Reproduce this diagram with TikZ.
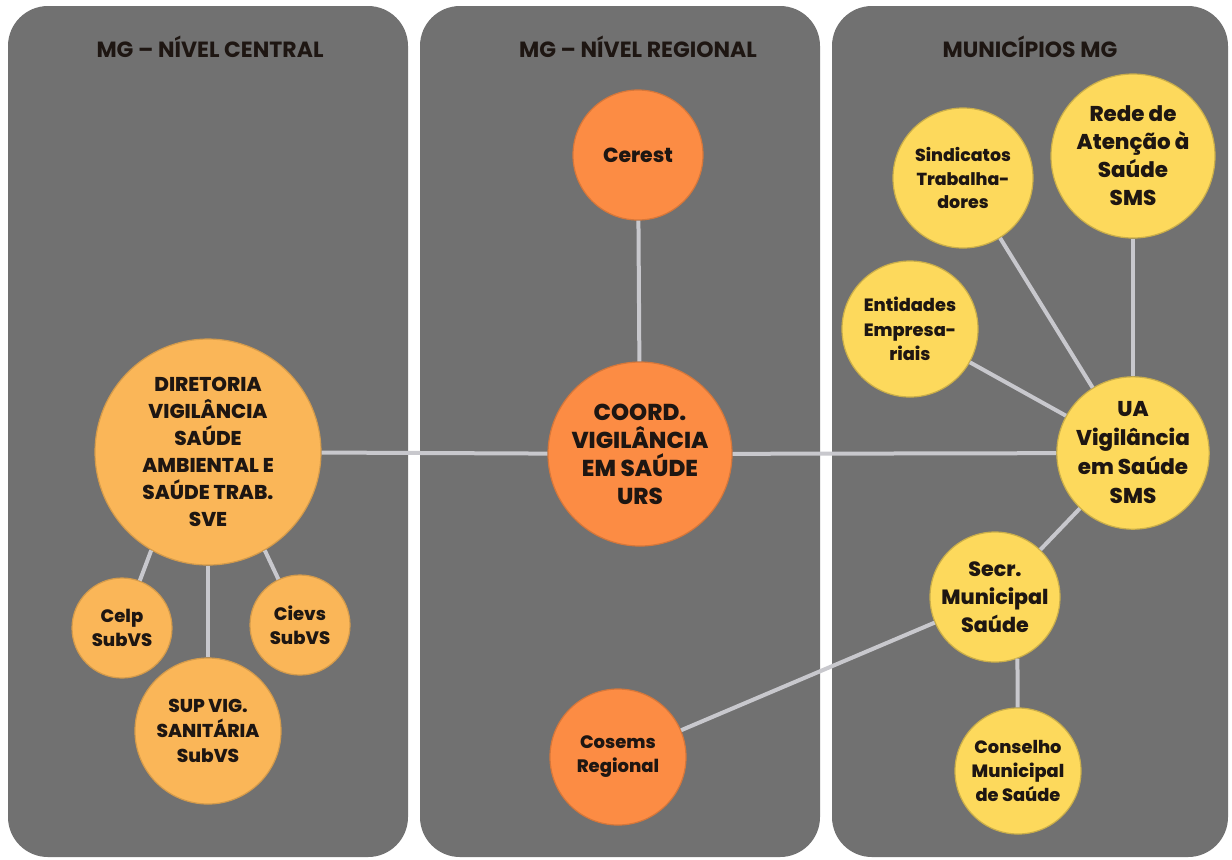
\documentclass[tikz,border=0pt]{standalone}
\usepackage{fontspec}
\IfFontExistsTF{Poppins ExtraBold}
  {\setmainfont{Poppins}[BoldFont={Poppins ExtraBold}]}
  {\setmainfont{Poppins}}
\IfFontExistsTF{Poppins Bold}
  {\newfontfamily\headfont{Poppins Bold}}
  {\newfontfamily\headfont{Poppins}}
\usepackage{tikz}

\definecolor{panelgray}{RGB}{113,113,113}
\definecolor{dirorange}{RGB}{250,182,88}
\definecolor{urorange}{RGB}{252,140,68}
\definecolor{munyellow}{RGB}{253,217,92}
\definecolor{edgegray}{RGB}{200,200,205}
\definecolor{inkdark}{RGB}{30,22,18}

\begin{document}
\begin{tikzpicture}[x=0.5pt,y=-0.5pt]
        \tikzset{panel/.style = {fill=panelgray, rounded corners=20pt}}
        \tikzset{title/.style = {text=inkdark, font=\headfont\fontsize{11}{12}\selectfont}}
        \tikzset{vertex/.style = {shape=circle, align=center, text=inkdark, inner sep=0pt, line width=0.6pt}}
        \tikzset{central/.style = {vertex, fill=dirorange, draw=dirorange!85!black}}
        \tikzset{regional/.style = {vertex, fill=urorange, draw=urorange!85!black}}
        \tikzset{municipal/.style = {vertex, fill=munyellow, draw=munyellow!80!black}}
        \tikzset{edge/.style = {draw=edgegray, line width=2pt}}
        \useasboundingbox (0,0) rectangle (1232,859);
        \fill[white] (0,0) rectangle (1232,859);
        % panels
        \fill[panel] (8,6) rectangle (408,857);
        \fill[panel] (420,6) rectangle (820,857);
        \fill[panel] (832,6) rectangle (1228,857);
        \node[title] (tcentral) at (210,47) {MG – NÍVEL CENTRAL};
        \node[title] (tregional) at (638,47) {MG – NÍVEL REGIONAL};
        \node[title] (tmunic) at (1030,47) {MUNICÍPIOS MG};

        % vertices
        \node[central, minimum size=113pt, font=\bfseries\fontsize{10}{13.5}\selectfont] (dir) at (208,452)
            {DIRETORIA\\VIGILÂNCIA\\SAÚDE\\AMBIENTAL E\\SAÚDE TRAB.\\SVE};
        \node[central, minimum size=50pt, font=\bfseries\fontsize{9}{12}\selectfont] (celp) at (122,628) {Celp\\SubVS};
        \node[central, minimum size=50pt, font=\bfseries\fontsize{9}{12}\selectfont] (cievs) at (300,625) {Cievs\\SubVS};
        \node[central, minimum size=73pt, font=\bfseries\fontsize{9.3}{12.5}\selectfont] (sup) at (208,731) {SUP VIG.\\SANITÁRIA\\SubVS};

        \node[regional, minimum size=65pt, font=\bfseries\fontsize{10.2}{12}\selectfont] (cerest) at (638,155) {Cerest};
        \node[regional, minimum size=92pt, font=\bfseries\fontsize{11.5}{14}\selectfont] (coord) at (640,454) {COORD.\\VIGILÂNCIA\\EM SAÚDE\\URS};
        \node[regional, minimum size=68pt, font=\bfseries\fontsize{9}{12}\selectfont] (cosems) at (618,757) {Cosems\\Regional};

        \node[municipal, minimum size=70pt, font=\bfseries\fontsize{8.7}{11.8}\selectfont] (sind) at (963,178) {Sindicatos\\Trabalha-\\dores};
        \node[municipal, minimum size=82pt, font=\bfseries\fontsize{10.7}{14}\selectfont] (rede) at (1133,156) {Rede de\\Atenção à\\Saúde\\SMS};
        \node[municipal, minimum size=68pt, font=\bfseries\fontsize{8.9}{12.2}\selectfont] (ent) at (910,329) {Entidades\\Empresa-\\riais};
        \node[municipal, minimum size=70pt, font=\bfseries\fontsize{10.7}{14.5}\selectfont] (ua) at (1133,453) {UA\\Vigilância\\em Saúde\\SMS};
        \node[municipal, minimum size=65pt, font=\bfseries\fontsize{10.3}{14}\selectfont] (secr) at (995,597) {Secr.\\Municipal\\Saúde};
        \node[municipal, minimum size=63pt, font=\bfseries\fontsize{8.9}{12.2}\selectfont] (cons) at (1018,771) {Conselho\\Municipal\\de Saúde};

        %edges
        \draw[edge] (dir) to (coord);
        \draw[edge] (coord) to (ua);
        \draw[edge] (cerest) to (coord);
        \draw[edge] (dir.240) to (celp);
        \draw[edge] (dir) to (sup);
        \draw[edge] (dir.300) to (cievs);
        \draw[edge] (cosems) to (secr);
        \draw[edge] (secr) to (ua);
        \draw[edge] (secr.-70) to (cons);
        \draw[edge] (ua) to (sind);
        \draw[edge] (ua) to (rede);
        \draw[edge] (ua) to (ent);
    \end{tikzpicture}
\end{document}
